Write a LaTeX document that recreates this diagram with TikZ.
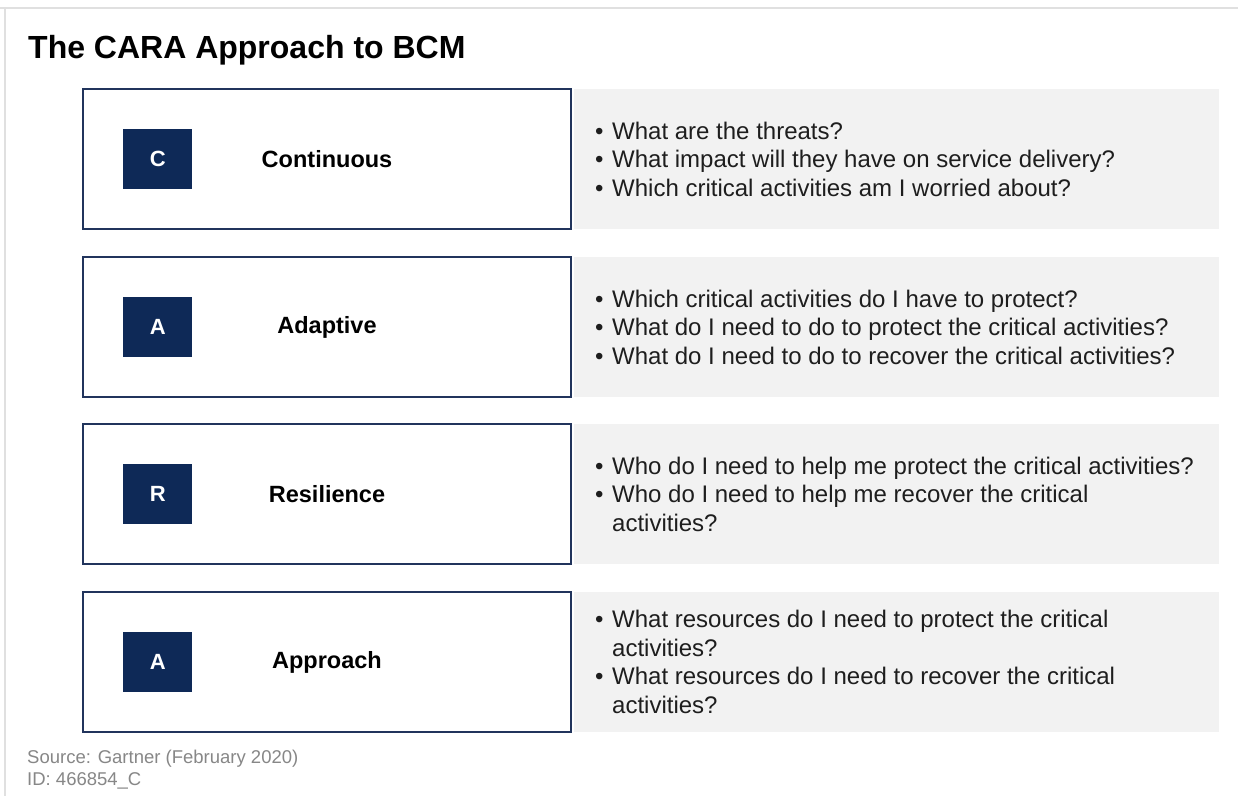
\documentclass[tikz,border=0pt]{standalone}
\usepackage{fontspec}
\setmainfont{Liberation Sans}
\usetikzlibrary{positioning}
\definecolor{caranavy}{RGB}{14,41,87}
\definecolor{caraline}{RGB}{33,52,92}
\definecolor{panelgrey}{RGB}{242,242,242}
\definecolor{framegrey}{RGB}{224,224,224}
\definecolor{srcgrey}{RGB}{135,135,135}
\definecolor{textgrey}{RGB}{30,30,30}
% bullet and hanging indent for the question lists
\newcommand{\qb}{\makebox[17pt][l]{\textbullet}}
\newcommand{\qc}{\hspace*{17pt}}

\begin{document}
\begin{tikzpicture}[x=1pt,y=-1pt,
  stagebox/.style={draw=caraline,line width=2pt,fill=white,anchor=north west,
    minimum width=488pt,minimum height=140pt,inner sep=0pt},
  letterbox/.style={fill=caranavy,text=white,minimum width=69pt,minimum height=60pt,
    inner sep=0pt,font=\fontsize{22}{26}\selectfont\bfseries},
  stagename/.style={text=black,font=\fontsize{23.5}{28}\selectfont\bfseries},
  panelbox/.style={fill=panelgrey,minimum width=645pt,minimum height=140pt,inner sep=0pt},
  questions/.style={text=textgrey,align=left,inner sep=0pt,
    font=\fontsize{24}{28.5}\selectfont}]
  \useasboundingbox[fill=white] (0,0) rectangle (1238,796);
  % frame edge
  \draw[framegrey,line width=2pt] (0,8) -- (1238,8);
  \draw[framegrey,line width=2pt] (5,8) -- (5,796);
  \node[anchor=base west,inner sep=0pt,font=\fontsize{32}{38}\selectfont\bfseries] (title) at (28,58) {The CARA Approach to BCM};

  % Continuous
  \node[stagebox] (cont) at (82,88) {};
  \node[letterbox,right=41pt of cont.west] (contL) {C};
  \node[stagename] (contN) at (cont.center) {Continuous};
  \node[panelbox,right=2pt of cont] (contP) {};
  \node[questions,right=23pt of cont.east] (contQ) {\qb What are the threats?\\
    \qb What impact will they have on service delivery?\\
    \qb Which critical activities am I worried about?};

  % Adaptive
  \node[stagebox] (adap) at (82,256) {};
  \node[letterbox,right=41pt of adap.west] (adapL) {A};
  \node[stagename] (adapN) at (adap.center) {Adaptive};
  \node[panelbox,right=2pt of adap] (adapP) {};
  \node[questions,right=23pt of adap.east] (adapQ) {\qb Which critical activities do I have to protect?\\
    \qb What do I need to do to protect the critical activities?\\
    \qb What do I need to do to recover the critical activities?};

  % Resilience
  \node[stagebox] (resi) at (82,423) {};
  \node[letterbox,right=41pt of resi.west] (resiL) {R};
  \node[stagename] (resiN) at (resi.center) {Resilience};
  \node[panelbox,right=2pt of resi] (resiP) {};
  \node[questions,right=23pt of resi.east] (resiQ) {\qb Who do I need to help me protect the critical activities?\\
    \qb Who do I need to help me recover the critical\\
    \qc activities?};

  % Approach
  \node[stagebox] (appr) at (82,591) {};
  \node[letterbox,right=41pt of appr.west] (apprL) {A};
  \node[stagename] (apprN) at (appr.center) {Approach};
  \node[panelbox,right=2pt of appr] (apprP) {};
  \node[questions,right=23pt of appr.east] (apprQ) {\qb What resources do I need to protect the critical\\
    \qc activities?\\
    \qb What resources do I need to recover the critical\\
    \qc activities?};

  % source line
  \node[anchor=north west,align=left,inner sep=0pt,text=srcgrey,
    font=\fontsize{18.5}{22}\selectfont] (src) at (27,750) {Source: Gartner (February 2020)\\ID: 466854\_C};
\end{tikzpicture}
\end{document}
